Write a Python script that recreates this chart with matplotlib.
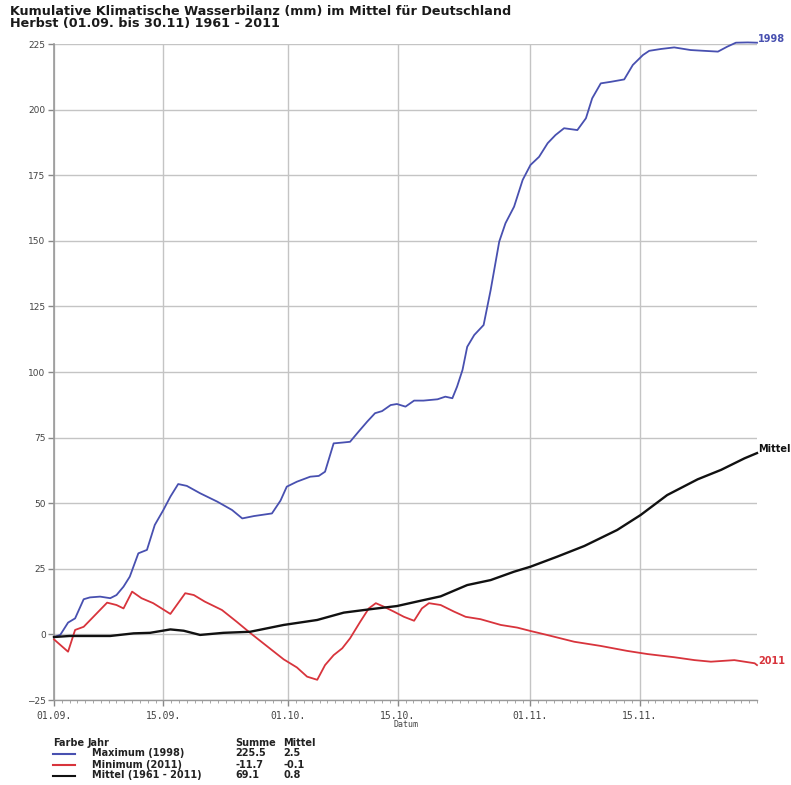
import numpy as np
import matplotlib
matplotlib.use("Agg")
import matplotlib.pyplot as plt
from matplotlib.lines import Line2D
from datetime import date

# days after 01.09. and cumulative water balance (mm)
max_days = [0, 0.8, 1.8, 2.7, 3.8, 4.6, 5.9, 7.2, 8.0, 8.9, 9.7, 10.8, 11.9, 12.3, 12.9,
            14.0, 14.9, 15.9, 17.0, 18.7, 20.9, 22.8, 24.1, 25.6, 27.9, 29.0, 29.8, 31.1,
            32.8, 33.9, 34.7, 35.8, 36.9, 37.9, 39.0, 40.1, 41.1, 42.0, 43.1, 43.9, 45.0,
            46.1, 47.3, 49.1, 50.1, 51.0, 51.6, 52.3, 52.9, 53.8, 55.0, 55.9, 57.0, 57.8,
            58.9, 60.0, 61.0, 62.1, 63.2, 64.2, 65.3, 67.0, 68.1, 68.9, 70.0, 71.3, 73.0,
            74.1, 75.4, 76.2, 77.7, 79.4, 81.5, 83.2, 85.0, 86.2, 87.3, 88.8, 90]
max_vals = [-1.0, -0.2, 4.5, 6.1, 13.4, 14.1, 14.4, 13.8, 15.0, 18.2, 22.0, 30.9, 32.2, 36.0, 41.7,
            47.4, 52.5, 57.3, 56.6, 53.8, 50.6, 47.4, 44.2, 45.1, 46.1, 51.0, 56.3, 58.2,
            60.1, 60.4, 62.0, 72.8, 73.1, 73.4, 77.3, 81.1, 84.3, 85.1, 87.4, 87.8, 86.8,
            89.1, 89.1, 89.6, 90.6, 90.0, 94.4, 100.8, 109.6, 114.1, 117.9, 131.2, 149.7, 156.7,
            163.0, 173.2, 178.9, 182.0, 187.2, 190.3, 192.9, 192.2, 196.7, 204.3, 210.0, 210.6, 211.5,
            217.0, 220.8, 222.4, 223.1, 223.7, 222.7, 222.4, 222.1, 224.0, 225.5, 225.6, 225.5]

min_days = [0, 1.8, 2.7, 3.8, 6.8, 8.0, 8.9, 10.0, 11.2, 12.7, 14.9, 16.8, 17.9, 19.3,
            21.5, 23.4, 25.1, 26.8, 29.4, 31.1, 32.4, 33.7, 34.7, 35.8, 36.9, 37.9, 39.2,
            40.3, 41.2, 42.2, 43.5, 44.8, 46.1, 47.1, 48.0, 49.5, 51.2, 52.7, 54.6, 57.2,
            59.3, 61.0, 63.1, 66.6, 70.0, 73.4, 76.0, 79.4, 82.0, 84.1, 87.1, 89.7, 90]
min_vals = [-1.9, -6.6, 1.7, 2.9, 12.1, 11.2, 9.9, 16.3, 13.8, 11.9, 7.8, 15.7, 15.0, 12.5,
            9.3, 4.8, 0.6, -3.4, -9.5, -12.6, -16.1, -17.3, -11.7, -7.9, -5.3, -1.5, 4.8,
            9.9, 11.9, 10.6, 8.7, 6.7, 5.2, 9.9, 11.9, 11.2, 8.7, 6.7, 5.8, 3.6,
            2.6, 1.3, -0.2, -2.8, -4.4, -6.3, -7.5, -8.7, -9.8, -10.4, -9.8, -11.0, -11.7]

mean_days = [0, 2.0, 7.2, 10.2, 12.3, 14.9, 16.6, 18.7, 21.7, 25.1, 29.4, 33.7, 37.1,
             40.5, 43.9, 46.9, 49.5, 52.9, 55.9, 58.9, 61.0, 64.4, 67.9, 72.1, 75.1,
             78.5, 82.4, 85.4, 88.4, 90]
mean_vals = [-1.0, -0.6, -0.6, 0.4, 0.6, 1.9, 1.4, -0.2, 0.6, 1.0, 3.6, 5.5, 8.3,
             9.6, 10.8, 12.8, 14.5, 18.8, 20.7, 23.9, 25.8, 29.6, 33.7, 39.8, 45.5,
             53.1, 59.1, 62.7, 67.1, 69.1]

tick_labels = ["01.09.", "15.09.", "01.10.", "15.10.", "01.11.", "15.11."]

legend_rows = ["Maximum (1998)", "Minimum (2011)", "Mittel (1961 - 2011)"]
legend_sum = ["225.5", "-11.7", "69.1"]
legend_mean = ["2.5", "-0.1", "0.8"]
end_labels = ["1998", "2011", "Mittel"]

BLUE = "#4850b0"
RED = "#d8343c"
BLACK = "#111111"
colors = [BLUE, RED, BLACK]
widths = [1.3, 1.3, 1.7]

fig = plt.figure(figsize=(7.91, 7.85), dpi=100)
ax = fig.add_axes([54 / 791, 1 - 700 / 785, 703 / 791, 656 / 785])

series = [(max_days, max_vals), (min_days, min_vals), (mean_days, mean_vals)]
for (d, v), c, w in zip(series, colors, widths):
    ax.plot(d, v, color=c, lw=w, zorder=3, clip_on=False)

ax.set_xlim(0, 90)
ax.set_ylim(-25, 225)

# x ticks at the dates
start = date(2011, 9, 1)
tick_pos = []
for lab in tick_labels:
    dd, mm = lab.split(".")[:2]
    tick_pos.append((date(2011, int(mm), int(dd)) - start).days)
ax.set_xticks(tick_pos)
ax.set_xticklabels(tick_labels, family="DejaVu Sans Mono", fontsize=7, color="#444444")
ax.set_xticks(np.arange(0, 91), minor=True)
ax.set_yticks(np.arange(-25, 226, 25))
ax.tick_params(axis="y", labelsize=6.5, colors="#888888", length=4, width=1, pad=2)
ax.tick_params(axis="x", which="major", length=4, width=1, colors="#888888", pad=4)
ax.tick_params(axis="x", which="minor", length=2, width=0.6, colors="#999999")
for lab in ax.get_yticklabels() + ax.get_xticklabels():
    lab.set_color("#444444")

ax.grid(True, which="major", color="#c4c4c4", lw=1, zorder=0)
for s in ["top", "right"]:
    ax.spines[s].set_visible(False)
ax.spines["left"].set_color("#999999")
ax.spines["bottom"].set_color("#999999")
ax.spines["left"].set_linewidth(1.2)
ax.spines["bottom"].set_linewidth(1.0)

ax.set_xlabel("Datum", family="DejaVu Sans Mono", fontsize=6, color="#444444", labelpad=-1)

# labels at the line ends
for (d, v), c, t in zip(series, colors, end_labels):
    ax.annotate(t, (d[-1], v[-1]), xytext=(1, -1), textcoords="offset points",
                fontsize=7, fontweight="bold", color=c, ha="left", va="bottom",
                annotation_clip=False)

# title
fig.text(10 / 791, 1 - 5 / 785,
         "Kumulative Klimatische Wasserbilanz (mm) im Mittel für Deutschland\n"
         "Herbst (01.09. bis 30.11) 1961 - 2011",
         fontsize=9.2, fontweight="bold", va="top", ha="left", linespacing=0.9,
         color="#1a1a1a")

# legend table below the plot
def fy(y):
    return 1 - y / 785

def fx(x):
    return x / 791

hdr = dict(fontsize=7, fontweight="bold", va="center", ha="left", color="#222222")
fig.text(fx(53), fy(743), "Farbe", **hdr)
fig.text(fx(88), fy(743), "Jahr", **hdr)
fig.text(fx(235), fy(743), "Summe", **hdr)
fig.text(fx(283), fy(743), "Mittel", **hdr)
for i, (name, s, m) in enumerate(zip(legend_rows, legend_sum, legend_mean)):
    y = 753.5 + i * 11
    fig.add_artist(Line2D([fx(53), fx(75)], [fy(y), fy(y)], color=colors[i], lw=1.5))
    fig.text(fx(92), fy(y), name, **hdr)
    fig.text(fx(235), fy(y), s, **hdr)
    fig.text(fx(283), fy(y), m, **hdr)

fig.savefig("out.png", dpi=100)
